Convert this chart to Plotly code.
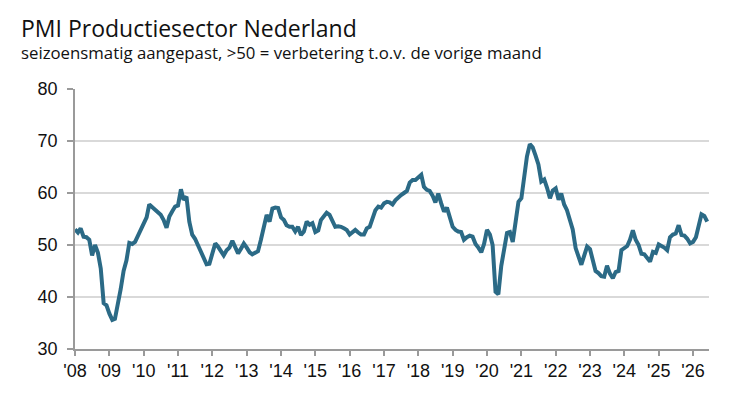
import pandas as pd
import plotly.graph_objects as go

# monthly PMI, Jan 2008 .. Jun 2026
pmi_2008 = [53.0, 52.4, 53.2, 51.6, 51.5, 51.0, 48.0, 50.0, 48.5, 45.5, 38.8, 38.4]
pmi_2009 = [36.8, 35.6, 35.8, 38.5, 41.5, 45.0, 47.0, 50.4, 50.2, 50.6, 51.8, 52.8]
pmi_2010 = [54.2, 55.3, 57.8, 57.2, 56.7, 56.3, 55.8, 54.8, 53.3, 55.5, 56.5, 57.4]
pmi_2011 = [57.6, 60.7, 58.7, 59.3, 54.5, 52.0, 51.2, 50.0, 48.4, 47.6, 46.3, 46.4]
pmi_2012 = [48.5, 50.3, 49.7, 48.8, 48.0, 49.0, 49.5, 50.8, 49.6, 48.4, 49.3, 50.3]
pmi_2013 = [49.5, 48.6, 48.2, 48.5, 48.8, 51.0, 53.5, 55.8, 54.5, 57.0, 57.2, 57.1]
pmi_2014 = [55.3, 54.8, 53.8, 53.5, 53.5, 52.6, 53.5, 51.9, 52.6, 54.5, 53.9, 54.2]
pmi_2015 = [52.5, 52.8, 54.8, 55.5, 56.2, 55.8, 54.5, 53.5, 53.6, 53.5, 53.2, 52.9]
pmi_2016 = [52.0, 52.5, 52.9, 52.4, 52.0, 52.0, 53.2, 53.5, 55.0, 56.7, 57.4, 57.2]
pmi_2017 = [58.0, 58.3, 58.2, 57.8, 58.6, 59.2, 59.6, 60.0, 60.4, 62.0, 62.5, 62.5]
pmi_2018 = [63.0, 63.5, 61.2, 60.6, 60.4, 59.5, 58.2, 59.9, 58.0, 56.4, 57.2, 55.0]
pmi_2019 = [53.5, 52.9, 52.6, 52.5, 51.0, 51.5, 51.8, 51.6, 50.2, 49.5, 48.6, 50.2]
pmi_2020 = [52.9, 52.0, 50.0, 41.0, 40.5, 46.0, 49.5, 52.3, 52.5, 50.6, 54.5, 58.3]
pmi_2021 = [59.0, 63.5, 67.0, 69.4, 68.8, 67.2, 65.5, 62.2, 62.6, 61.0, 59.0, 60.5]
pmi_2022 = [60.9, 58.7, 59.9, 57.8, 56.7, 54.8, 53.0, 49.4, 48.0, 46.2, 48.0, 49.7]
pmi_2023 = [49.2, 47.0, 45.0, 44.6, 44.0, 43.9, 46.0, 44.5, 43.6, 44.8, 45.0, 49.0]
pmi_2024 = [49.4, 49.8, 51.0, 52.8, 51.0, 50.0, 48.3, 48.2, 47.5, 46.8, 48.7, 48.5]
pmi_2025 = [50.1, 49.8, 49.5, 49.0, 51.5, 52.0, 52.2, 53.8, 51.9, 51.8, 51.2, 50.3]
pmi_2026 = [50.6, 51.5, 53.8, 55.9, 55.6, 54.5]

values = (pmi_2008 + pmi_2009 + pmi_2010 + pmi_2011 + pmi_2012 + pmi_2013
          + pmi_2014 + pmi_2015 + pmi_2016 + pmi_2017 + pmi_2018 + pmi_2019
          + pmi_2020 + pmi_2021 + pmi_2022 + pmi_2023 + pmi_2024 + pmi_2025
          + pmi_2026)
months = pd.date_range("2008-01-01", periods=len(values), freq="MS")

years = list(range(2008, 2027))
year_labels = ["'%02d" % (y % 100) for y in years]
year_ticks = [pd.Timestamp(y, 1, 1) for y in years]

fig = go.Figure()
fig.add_trace(go.Scatter(x=months, y=values, mode="lines",
                         line=dict(color="#2b6a86", width=4),
                         hoverinfo="skip"))

axis_grey = "#9a9a9a"
tick_font = dict(family="Liberation Sans, Arial", size=18, color="#111111")

# the page has an 8px body margin, so the margins are 8px smaller
fig.update_layout(
    width=756, height=400,
    margin=dict(l=67, r=55, t=81, b=59),
    paper_bgcolor="white", plot_bgcolor="white",
    showlegend=False,
    xaxis=dict(range=[pd.Timestamp(2008, 1, 1), pd.Timestamp(2026, 6, 20)],
               tickvals=year_ticks, ticktext=year_labels,
               showgrid=False, showline=True, linecolor=axis_grey, linewidth=1.5,
               ticks="outside", ticklen=5, tickcolor=axis_grey, tickwidth=1.5,
               tickfont=tick_font),
    yaxis=dict(range=[30, 80], dtick=10, showgrid=True, gridcolor="#d9d9d9",
               gridwidth=1.5, zeroline=False, showline=True, linecolor=axis_grey,
               linewidth=1.5, ticks="outside", ticklen=6, tickcolor=axis_grey,
               tickwidth=1.5, tickfont=tick_font, ticklabelstandoff=6),
    annotations=[
        dict(text="PMI Productiesector Nederland", xref="paper", yref="paper",
             x=-0.088, y=1.235, xanchor="left", yanchor="middle", showarrow=False,
             font=dict(family="Open Sans", size=23, color="#111111")),
        dict(text="seizoensmatig aangepast, >50 = verbetering t.o.v. de vorige maand",
             xref="paper", yref="paper", x=-0.088, y=1.141, xanchor="left",
             yanchor="middle", showarrow=False,
             font=dict(family="Open Sans", size=16.8, color="#111111")),
    ],
)

fig.write_html("out.html")
